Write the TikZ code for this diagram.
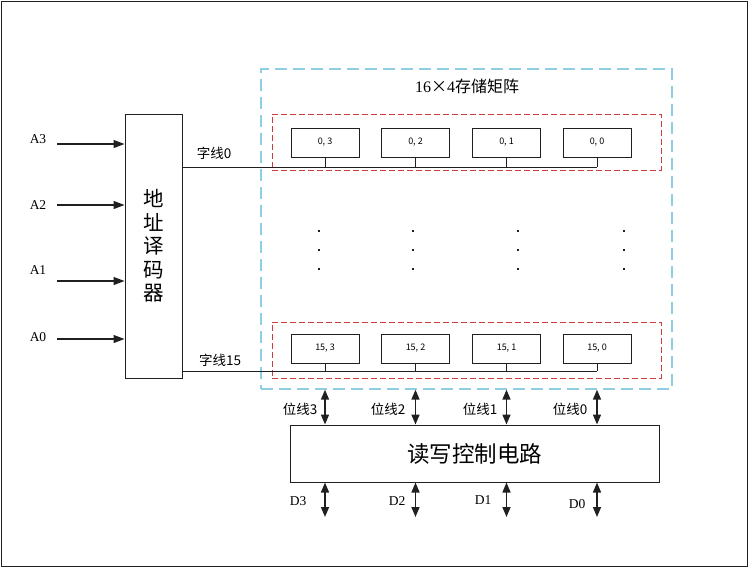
\documentclass[tikz,border=0pt]{standalone}
\usepackage{fontspec}
\setmainfont{Liberation Serif}
\newfontfamily\cjk{Noto Sans CJK SC}
\usetikzlibrary{arrows.meta,positioning}
\definecolor{skyline}{HTML}{8FCDE4}
\definecolor{rowline}{HTML}{D03C3C}
\definecolor{frameline}{HTML}{202020}
\tikzset{
  box/.style={draw=frameline, line width=1pt, fill=white, inner sep=0pt},
  cellbox/.style={box, minimum width=68pt, minimum height=29pt, font=\cjk\fontsize{9}{10}\selectfont},
  rowbox/.style={draw=rowline, line width=1pt, dash pattern=on 6pt off 3pt, minimum width=389pt, minimum height=56pt, inner sep=0pt},
  wire/.style={draw=frameline, line width=1pt},
  inarrow/.style={wire, line width=1.2pt, -{Triangle[length=11pt,width=8pt]}},
  busarrow/.style={wire, line width=1.5pt, {Triangle[length=10pt,width=8pt]}-{Triangle[length=10pt,width=8pt]}},
  pinlabel/.style={inner sep=0pt, font=\fontsize{13.5}{15}\selectfont},
  cnlabel/.style={inner sep=0pt, font=\cjk\fontsize{13.5}{15}\selectfont}
}
\begin{document}
\begin{tikzpicture}[x=1pt, y=-1pt]
  \useasboundingbox (0,0) rectangle (749,568);
  \draw[frameline, line width=1pt] (1,1) rectangle (747,566);

  % address decoder and its inputs
  \node[box, minimum width=57pt, minimum height=264pt, align=center,
        font=\cjk\fontsize{20.5}{23.5}\selectfont] (dec) at (153.5,246) {地\\址\\译\\码\\器};
  \foreach \name/\y/\ly in {A3/144/139, A2/205/205, A1/281/270, A0/339/337} {
    \coordinate (in\name) at (57,\y);
    \node[pinlabel] (lab\name) at (38,\ly) {\name};
    \draw[inarrow] (in\name) -- (in\name -| dec.west);
  }

  % storage matrix
  \node[draw=skyline, line width=1.3pt, dash pattern=on 12pt off 6pt,
        minimum width=411pt, minimum height=320pt, inner sep=0pt] (store) at (466.5,229) {};
  \node[inner sep=0pt, font=\fontsize{16}{18}\selectfont] (title) at (467,86)
    {16{\cjk ×}4{\cjk 存储矩阵}};
  \node[rowbox] (row0) at (466.5,142) {};
  \node[rowbox] (row15) at (466.5,350) {};

  \coordinate (wl0) at (597,167);
  \coordinate (wl15) at (597,371);
  \draw[wire] (wl0 -| dec.east) -- (wl0);
  \draw[wire] (wl15 -| dec.east) -- (wl15);
  \node[cnlabel] (wlab0) at (214,153) {字线0};
  \node[cnlabel] (wlab15) at (220,360) {字线15};

  \foreach \col/\x in {3/325, 2/415.5, 1/506.5, 0/597} {
    \node[cellbox] (c0-\col) at (\x,142.5) {0, \col};
    \node[cellbox] (c15-\col) at (\x,348.5) {15, \col};
    \draw[wire] (c0-\col.south) -- (c0-\col.south |- wl0);
    \draw[wire] (c15-\col.south) -- (c15-\col.south |- wl15);
  }

  % rows in between
  \foreach \x in {319, 413, 518, 624}
    \foreach \y in {231, 250, 269}
      \fill[frameline] (\x-0.9,\y-0.9) rectangle (\x+0.9,\y+0.9);

  % read/write control
  \node[box, minimum width=369pt, minimum height=57pt,
        font=\cjk\fontsize{22.5}{24}\selectfont] (ctrl) at (474.5,453.5) {读写控制电路};
  \foreach \col/\bx/\dx/\dy in {3/300/298/501, 2/388/397/501, 1/480/483/500, 0/570/577/504} {
    \coordinate (d\col) at (c15-\col.south |- 0,517);
    \draw[busarrow] (c15-\col.south |- store.south) -- (c15-\col.south |- ctrl.north);
    \draw[busarrow] (d\col |- ctrl.south) -- (d\col);
    \node[cnlabel] (blab\col) at (\bx,409) {位线\col};
    \node[pinlabel] (dlab\col) at (\dx,\dy) {D\col};
  }
\end{tikzpicture}
\end{document}
